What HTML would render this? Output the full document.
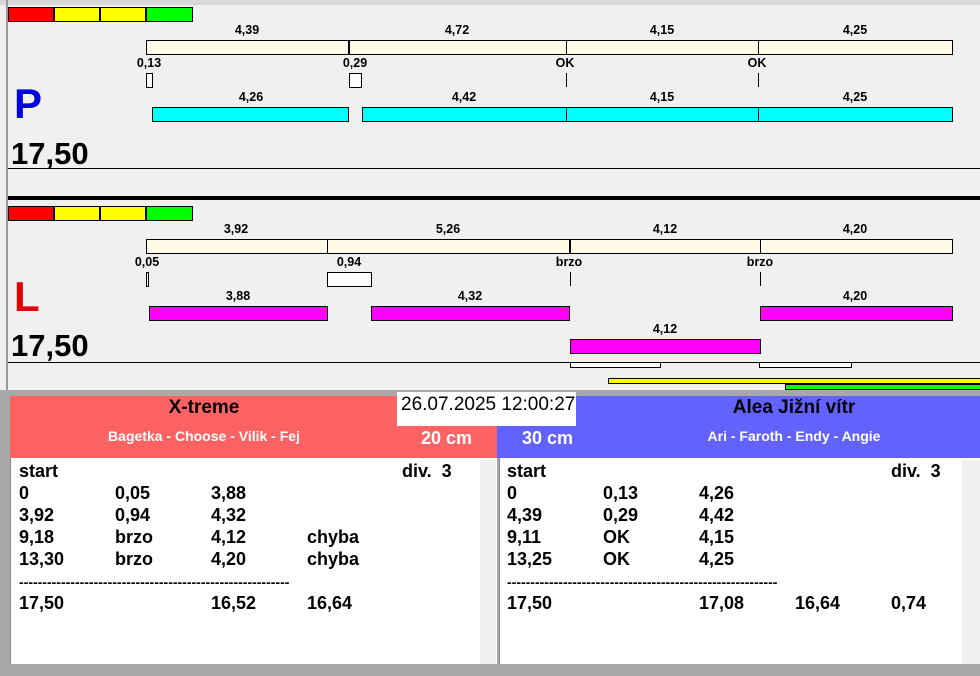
<!DOCTYPE html><html><head><style>
body{margin:0;width:980px;height:676px;background:#f0f0f0;position:relative;overflow:hidden;font-family:"Liberation Sans",Arial,sans-serif}
div{position:absolute;box-sizing:border-box}
.t{font-size:12.5px;font-weight:bold;color:#000;transform:translateX(-50%);white-space:nowrap}
.c{background:#fffbe6;border:1px solid #000;height:15px}
.b{border:1px solid #000;height:15px}
.r{font-size:18px;font-weight:bold;white-space:nowrap;line-height:22px}
.d{font-size:14px;font-weight:bold;white-space:nowrap;overflow:hidden;height:12px;line-height:12px}
</style></head><body>
<div style="left:0;top:0;width:980px;height:5px;background:#d8d8d8"></div>
<div style="left:6px;top:0;width:2px;height:392px;background:#999"></div>
<!-- P panel -->
<div style="left:8px;top:7px;width:46px;height:15px;background:#f00;border:1px solid #000"></div>
<div style="left:54px;top:7px;width:46px;height:15px;background:#ff0;border:1px solid #000"></div>
<div style="left:100px;top:7px;width:46px;height:15px;background:#ff0;border:1px solid #000"></div>
<div style="left:146px;top:7px;width:47px;height:15px;background:#0f0;border:1px solid #000"></div>
<div class="t" style="left:247px;top:23px">4,39</div><div class="t" style="left:457px;top:23px">4,72</div><div class="t" style="left:662px;top:23px">4,15</div><div class="t" style="left:855px;top:23px">4,25</div>
<div class="c" style="left:146px;top:40px;width:204px"></div><div class="c" style="left:349px;top:40px;width:218px"></div><div class="c" style="left:566px;top:40px;width:193px"></div><div class="c" style="left:758px;top:40px;width:195px"></div>
<div style="left:348px;top:40px;width:2px;height:15px;background:#000"></div>
<div class="t" style="left:149px;top:56px">0,13</div><div class="t" style="left:355px;top:56px">0,29</div><div class="t" style="left:565px;top:56px">OK</div><div class="t" style="left:757px;top:56px">OK</div>
<div style="left:146px;top:73px;width:7px;height:15px;background:#fff;border:1px solid #000"></div>
<div style="left:349px;top:73px;width:13px;height:15px;background:#fff;border:1px solid #000"></div>
<div style="left:566px;top:73px;width:1px;height:14px;background:#000"></div><div style="left:758px;top:73px;width:1px;height:14px;background:#000"></div>
<div class="t" style="left:251px;top:90px">4,26</div><div class="t" style="left:464px;top:90px">4,42</div><div class="t" style="left:662px;top:90px">4,15</div><div class="t" style="left:855px;top:90px">4,25</div>
<div class="b" style="left:152px;top:107px;width:197px;background:#0ff"></div><div class="b" style="left:362px;top:107px;width:205px;background:#0ff"></div><div class="b" style="left:566px;top:107px;width:193px;background:#0ff"></div><div class="b" style="left:758px;top:107px;width:195px;background:#0ff"></div>
<div style="left:14px;top:80px;font-size:42px;font-weight:bold;color:#0000e0">P</div>
<div style="left:11px;top:136px;font-size:31px;font-weight:bold">17,50</div>
<div style="left:8px;top:168px;width:972px;height:1px;background:#000"></div>
<div style="left:8px;top:196px;width:972px;height:4px;background:#000"></div>
<!-- L panel -->
<div style="left:8px;top:206px;width:46px;height:15px;background:#f00;border:1px solid #000"></div>
<div style="left:54px;top:206px;width:46px;height:15px;background:#ff0;border:1px solid #000"></div>
<div style="left:100px;top:206px;width:46px;height:15px;background:#ff0;border:1px solid #000"></div>
<div style="left:146px;top:206px;width:47px;height:15px;background:#0f0;border:1px solid #000"></div>
<div class="t" style="left:236px;top:222px">3,92</div><div class="t" style="left:448px;top:222px">5,26</div><div class="t" style="left:665px;top:222px">4,12</div><div class="t" style="left:855px;top:222px">4,20</div>
<div class="c" style="left:146px;top:239px;width:182px"></div><div class="c" style="left:327px;top:239px;width:244px"></div><div class="c" style="left:570px;top:239px;width:191px"></div><div class="c" style="left:760px;top:239px;width:193px"></div>
<div style="left:569px;top:239px;width:2px;height:15px;background:#000"></div>
<div class="t" style="left:147px;top:255px">0,05</div><div class="t" style="left:349px;top:255px">0,94</div><div class="t" style="left:569px;top:255px">brzo</div><div class="t" style="left:760px;top:255px">brzo</div>
<div style="left:146px;top:272px;width:3px;height:15px;background:#fff;border:1px solid #000"></div>
<div style="left:327px;top:272px;width:45px;height:15px;background:#fff;border:1px solid #000"></div>
<div style="left:570px;top:272px;width:1px;height:14px;background:#000"></div><div style="left:760px;top:272px;width:1px;height:14px;background:#000"></div>
<div class="t" style="left:238px;top:289px">3,88</div><div class="t" style="left:470px;top:289px">4,32</div><div class="t" style="left:855px;top:289px">4,20</div>
<div class="b" style="left:149px;top:306px;width:179px;background:#f0f"></div><div class="b" style="left:371px;top:306px;width:199px;background:#f0f"></div><div class="b" style="left:760px;top:306px;width:193px;background:#f0f"></div>
<div class="t" style="left:665px;top:322px">4,12</div>
<div class="b" style="left:570px;top:339px;width:191px;background:#f0f"></div>
<div style="left:14px;top:273px;font-size:42px;font-weight:bold;color:#e00000">L</div>
<div style="left:11px;top:328px;font-size:31px;font-weight:bold">17,50</div>
<div style="left:8px;top:362px;width:972px;height:1px;background:#000"></div>
<div style="left:570px;top:362px;width:91px;height:6px;background:#fff;border:1px solid #000"></div>
<div style="left:759px;top:362px;width:93px;height:6px;background:#fff;border:1px solid #000"></div>
<div style="left:608px;top:378px;width:372px;height:6px;background:#ff0;border:1px solid #000;border-right:0"></div>
<div style="left:785px;top:384px;width:195px;height:6px;background:#0f0;border:1px solid #000;border-right:0"></div>
<div style="left:0;top:390px;width:980px;height:6px;background:#a8a8a8"></div>
<!-- bottom -->
<div style="left:0;top:396px;width:10px;height:280px;background:#a8a8a8"></div>
<div style="left:10px;top:396px;width:487px;height:62px;background:#ff6262"></div>
<div style="left:497px;top:396px;width:483px;height:62px;background:#6262ff"></div>
<div style="left:204px;top:397px;transform:translateX(-50%);font-size:19px;font-weight:bold">X-treme</div>
<div style="left:204px;top:428px;transform:translateX(-50%);font-size:14px;font-weight:bold;color:#fff;white-space:nowrap">Bagetka - Choose - Vilik - Fej</div>
<div style="left:794px;top:397px;transform:translateX(-50%);font-size:19px;font-weight:bold;white-space:nowrap">Alea Jižní vítr</div>
<div style="left:794px;top:428px;transform:translateX(-50%);font-size:14px;font-weight:bold;color:#fff;white-space:nowrap">Ari - Faroth - Endy - Angie</div>
<div style="left:397px;top:392px;width:179px;height:34px;background:#fff;font-size:19px;padding:2px 0 0 4px">26.07.2025 12:00:27</div>
<div style="left:421px;top:428px;font-size:18px;font-weight:bold;color:#fff">20 cm</div>
<div style="left:522px;top:428px;font-size:18px;font-weight:bold;color:#fff">30 cm</div>
<div style="left:10px;top:458px;width:487px;height:206px;background:#fff;border-left:1px solid #888"></div>
<div style="left:480px;top:460px;width:16px;height:204px;background:#f0f0f0"></div>
<div style="left:499px;top:458px;width:481px;height:206px;background:#fff;border-left:1px solid #888"></div>
<div style="left:962px;top:460px;width:18px;height:204px;background:#f0f0f0"></div>
<div style="left:497px;top:458px;width:2px;height:206px;background:#a8a8a8"></div>
<div style="left:0;top:664px;width:980px;height:12px;background:#a8a8a8"></div>
<div class="r" style="left:19px;top:460px">start<br>0<br>3,92<br>9,18<br>13,30</div>
<div class="r" style="left:115px;top:482px">0,05<br>0,94<br>brzo<br>brzo</div>
<div class="r" style="left:211px;top:482px">3,88<br>4,32<br>4,12<br>4,20</div>
<div class="r" style="left:307px;top:526px">chyba<br>chyba</div>
<div class="d" style="left:19px;top:576px;width:270px">--------------------------------------------------------------</div>
<div class="r" style="left:19px;top:592px">17,50</div>
<div class="r" style="left:211px;top:592px">16,52</div>
<div class="r" style="left:307px;top:592px">16,64</div>
<div class="r" style="left:402px;top:460px">div.&nbsp; 3</div>
<div class="r" style="left:507px;top:460px">start<br>0<br>4,39<br>9,11<br>13,25</div>
<div class="r" style="left:603px;top:482px">0,13<br>0,29<br>OK<br>OK</div>
<div class="r" style="left:699px;top:482px">4,26<br>4,42<br>4,15<br>4,25</div>
<div class="d" style="left:507px;top:576px;width:270px">--------------------------------------------------------------</div>
<div class="r" style="left:507px;top:592px">17,50</div>
<div class="r" style="left:699px;top:592px">17,08</div>
<div class="r" style="left:795px;top:592px">16,64</div>
<div class="r" style="left:891px;top:592px">0,74</div>
<div class="r" style="left:891px;top:460px">div.&nbsp; 3</div>
</body></html>
